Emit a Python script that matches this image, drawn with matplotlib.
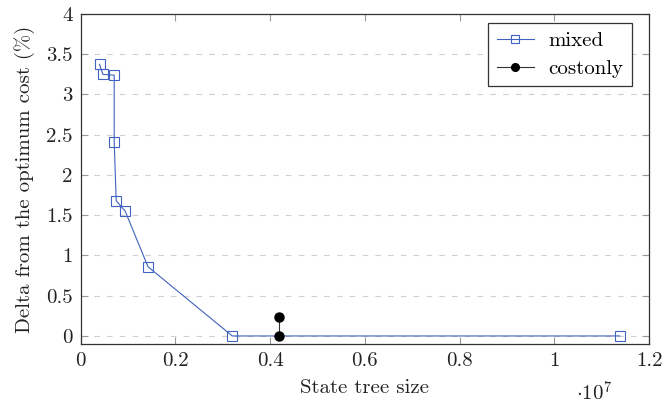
import matplotlib
matplotlib.use("Agg")
import matplotlib.pyplot as plt

# Data (x in units of 1e7)
mixed_x = [0.0397, 0.0468, 0.0707, 0.0707, 0.0749, 0.0939, 0.142, 0.320, 1.138]
mixed_y = [3.375, 3.25, 3.24, 2.41, 1.68, 1.55, 0.86, 0.0, 0.0]
costonly_x = [0.419, 0.419]
costonly_y = [0.235, 0.0]
xticks = [0, 0.2, 0.4, 0.6, 0.8, 1.0, 1.2]
xticklabels = ["0", "0.2", "0.4", "0.6", "0.8", "1", "1.2"]
yticks = [0, 0.5, 1, 1.5, 2, 2.5, 3, 3.5, 4]
yticklabels = ["0", "0.5", "1", "1.5", "2", "2.5", "3", "3.5", "4"]

plt.rcParams['font.family'] = ['cmr10', 'DejaVu Serif']
plt.rcParams['mathtext.fontset'] = 'cm'
plt.rcParams['axes.formatter.use_mathtext'] = True

FS = 15

fig = plt.figure(figsize=(6.65, 4.05), dpi=100)
ax = fig.add_axes([0.1214, 0.1506, 0.976 - 0.1214, 0.9654 - 0.1506])

blue = '#4062c0'
ax.plot(mixed_x, mixed_y, color=blue, lw=0.8, marker='s', markersize=6.5,
        markerfacecolor='none', markeredgecolor=blue, markeredgewidth=0.8,
        label='mixed', zorder=3)
ax.plot(costonly_x, costonly_y, color='#333333', lw=0.8, marker='o', markersize=6.5,
        markerfacecolor='black', markeredgecolor='black', label='costonly', zorder=4)

ax.set_xlim(0, 1.2)
ax.set_ylim(-0.1, 4)
ax.set_xticks(xticks)
ax.set_xticklabels(xticklabels)
ax.set_yticks(yticks)
ax.set_yticklabels(yticklabels)

ax.yaxis.grid(True, linestyle=(0, (5, 6.5)), color='#cfcfcf', lw=0.8)
ax.set_axisbelow(True)

ax.tick_params(direction='in', length=5, width=0.8, color='#999999',
               top=True, right=True, labelsize=FS, pad=6, labelcolor='#222222')
for sp in ax.spines.values():
    sp.set_color('#333333')
    sp.set_linewidth(0.9)

ax.set_xlabel('State tree size', fontsize=FS, labelpad=6, color='#222222')
ax.set_ylabel('Delta from the optimum cost (%)', fontsize=FS, labelpad=8, color='#222222')

fig.text(594 / 665, 1 - 393 / 405, r'$\cdot 10^7$', fontsize=FS, ha='center', va='center',
         color='#222222')

leg = ax.legend(loc='upper right', bbox_to_anchor=(0.970, 0.972), borderaxespad=0,
                fontsize=FS, fancybox=False, framealpha=1, edgecolor='#333333',
                handlelength=1.8, handletextpad=0.7, borderpad=0.4, labelspacing=0.45,
                markerscale=0.85)
leg.get_frame().set_linewidth(0.9)

fig.savefig('out.png', dpi=100)
